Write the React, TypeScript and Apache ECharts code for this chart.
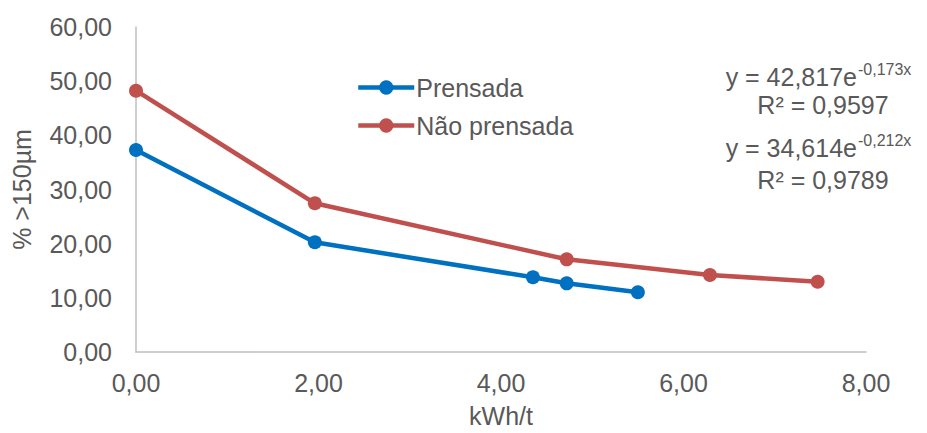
import React, { useEffect, useRef } from "react";
import * as echarts from "echarts";

const prensadaX = [0, 1.96, 4.35, 4.72, 5.5];
const prensadaY = [37.29, 20.25, 13.79, 12.68, 11.02];
const naoPrensadaX = [0, 1.96, 4.72, 6.29, 7.47];
const naoPrensadaY = [48.24, 27.45, 17.11, 14.21, 12.98];

const seriesNames = ["Prensada", "Não prensada"];
const seriesColors = ["#0070C0", "#C0504D"];

const trendMain = ["y = 42,817e", "y = 34,614e"];
const trendExp = ["-0,173x", "-0,212x"];
const trendR2 = ["R² = 0,9597", "R² = 0,9789"];

const fmt = (v: number) => v.toFixed(2).replace(".", ",");
const textColor = "#595959";
const font = "'Liberation Sans', Arial, sans-serif";
const fs = 25;

export default function App() {
  const ref = useRef<HTMLDivElement>(null);
  useEffect(() => {
    if (!ref.current) return;
    const chart = echarts.init(ref.current, null, { renderer: "svg" });
    const pairs = (xs: number[], ys: number[]) => xs.map((x, i) => [x, ys[i]]);
    const graphics: any[] = [];
    const eqY = [77, 148];
    const r2Y = [105, 180];
    trendMain.forEach((t, i) => {
      graphics.push({
        type: "text",
        x: 857,
        y: eqY[i],
        style: { text: t, fill: textColor, font: `${fs}px ${font}`, textAlign: "right", textVerticalAlign: "middle" },
      });
      graphics.push({
        type: "text",
        x: 858,
        y: eqY[i] - 8,
        style: { text: trendExp[i], fill: textColor, font: `16px ${font}`, textAlign: "left", textVerticalAlign: "middle" },
      });
      graphics.push({
        type: "text",
        x: 823,
        y: r2Y[i],
        style: { text: trendR2[i], fill: textColor, font: `${fs}px ${font}`, textAlign: "center", textVerticalAlign: "middle" },
      });
    });
    chart.setOption({
      animation: false,
      backgroundColor: "#ffffff",
      textStyle: { fontFamily: font },
      grid: { left: 136, right: 61, top: 27, bottom: 81, containLabel: false },
      legend: {
        orient: "vertical",
        left: 351,
        top: 70,
        itemWidth: 56,
        itemHeight: 18,
        itemGap: 13,
        data: seriesNames,
        lineStyle: { width: 4.5 },
        textStyle: { color: textColor, fontSize: fs, fontFamily: font, padding: [0, 0, 0, -3] },
      },
      xAxis: {
        type: "value",
        min: 0,
        max: 8,
        interval: 2,
        name: "kWh/t",
        nameLocation: "middle",
        nameGap: 51,
        nameTextStyle: { color: textColor, fontSize: fs, fontFamily: font },
        axisLine: { show: true, lineStyle: { color: "#BFBFBF", width: 1.5 } },
        axisTick: { show: false },
        splitLine: { show: false },
        axisLabel: { color: textColor, fontSize: fs, margin: 18, formatter: fmt, fontFamily: font },
      },
      yAxis: {
        type: "value",
        min: 0,
        max: 60,
        interval: 10,
        name: "% >150µm",
        nameLocation: "middle",
        nameGap: 102,
        nameTextStyle: { color: textColor, fontSize: fs, fontFamily: font },
        axisLine: { show: true, lineStyle: { color: "#BFBFBF", width: 1.5 } },
        axisTick: { show: false },
        splitLine: { show: false },
        axisLabel: { color: textColor, fontSize: fs, margin: 24, formatter: fmt, fontFamily: font },
      },
      series: [
        {
          name: seriesNames[0],
          type: "line",
          data: pairs(prensadaX, prensadaY),
          color: seriesColors[0],
          symbol: "circle",
          symbolSize: 14,
          lineStyle: { width: 4.5, color: seriesColors[0] },
          itemStyle: { color: seriesColors[0] },
        },
        {
          name: seriesNames[1],
          type: "line",
          data: pairs(naoPrensadaX, naoPrensadaY),
          color: seriesColors[1],
          symbol: "circle",
          symbolSize: 14,
          lineStyle: { width: 4.5, color: seriesColors[1] },
          itemStyle: { color: seriesColors[1] },
        },
      ],
      graphic: graphics,
    });
    return () => chart.dispose();
  }, []);
  return <div ref={ref} style={{ width: 927, height: 433, position: "fixed", left: 0, top: 0 }} />;
}
